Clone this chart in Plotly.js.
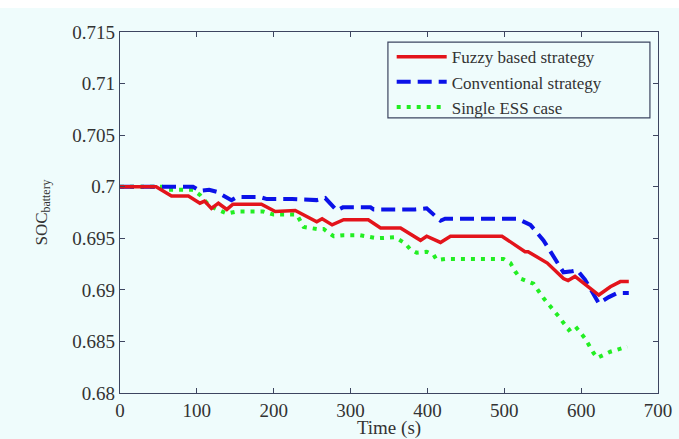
<!DOCTYPE html>
<html>
<head>
<meta charset="utf-8">
<script src="https://cdn.plot.ly/plotly-3.0.1.min.js"></script>
<style>html,body{margin:0;padding:0;background:#effcfc;}#chart{width:679px;height:439px;}</style>
</head>
<body>
<div id="chart"></div>
<script>
// Fuzzy based strategy
var fuzzyT = [0, 47, 67, 89, 104, 110, 119, 128, 139, 147, 184, 202, 228, 256, 263, 276, 291, 323, 339, 365, 391, 399, 417, 430, 497, 527, 531, 556, 577, 583, 592, 623, 638, 651, 662];
var fuzzyV = [0.7, 0.7, 0.6991, 0.6991, 0.6984, 0.6986, 0.6979, 0.6984, 0.6978, 0.6983, 0.6983, 0.6976, 0.6977, 0.6966, 0.6969, 0.6963, 0.6968, 0.6968, 0.6960, 0.6960, 0.6948, 0.6952, 0.6946, 0.6952, 0.6952, 0.6937, 0.6937, 0.6926, 0.6911, 0.6909, 0.6913, 0.6895, 0.6903, 0.6908, 0.6908];
// Conventional strategy
var convT = [0, 95, 104, 116, 126, 134, 145, 152, 182, 191, 224, 256, 267, 282, 290, 326, 330, 384, 399, 417, 423, 517, 534, 551, 564, 577, 588, 595, 605, 614, 623, 636, 647, 662];
var convV = [0.7, 0.7, 0.6996, 0.6997, 0.6995, 0.6992, 0.6987, 0.6990, 0.6990, 0.6988, 0.6988, 0.6987, 0.6989, 0.6977, 0.6980, 0.6980, 0.6978, 0.6978, 0.6979, 0.6967, 0.6969, 0.6969, 0.6963, 0.6948, 0.6932, 0.6917, 0.6918, 0.6919, 0.6910, 0.6898, 0.6887, 0.6893, 0.6897, 0.6897];
// Single ESS case
var singleT = [0, 55, 61, 95, 104, 117, 139, 152, 186, 200, 230, 239, 256, 265, 278, 291, 312, 334, 358, 371, 378, 386, 399, 408, 412, 423, 499, 508, 514, 521, 538, 551, 571, 584, 592, 605, 616, 621, 638, 660];
var singleV = [0.7, 0.7, 0.6997, 0.6997, 0.6992, 0.6981, 0.6974, 0.6976, 0.6976, 0.6973, 0.6973, 0.6961, 0.6959, 0.6959, 0.6952, 0.6953, 0.6953, 0.6950, 0.6951, 0.6945, 0.6939, 0.6936, 0.6937, 0.6934, 0.6929, 0.6930, 0.6930, 0.6926, 0.6918, 0.6911, 0.6906, 0.6892, 0.6874, 0.6861, 0.6865, 0.6853, 0.6839, 0.6834, 0.6840, 0.6845];

var xTicks = [0, 100, 200, 300, 400, 500, 600, 700];
var yTicks = [0.68, 0.685, 0.69, 0.695, 0.7, 0.705, 0.71, 0.715];
var yTickText = ['0.68', '0.685', '0.69', '0.695', '0.7', '0.705', '0.71', '0.715'];

var traces = [
  {x: fuzzyT, y: fuzzyV, name: 'Fuzzy based strategy', type: 'scatter', mode: 'lines',
   line: {color: '#e3141b', width: 3.5}},
  {x: convT, y: convV, name: 'Conventional strategy', type: 'scatter', mode: 'lines',
   line: {color: '#0b12e8', width: 4, dash: '14px,7px'}},
  {x: singleT, y: singleV, name: 'Single ESS case', type: 'scatter', mode: 'lines',
   line: {color: '#22ee22', width: 4, dash: '4px,6px'}}
];
// draw order: green, blue, red on top; legend order kept
var data = [traces[2], traces[1], traces[0]];
data[0].legendrank = 3; data[1].legendrank = 2; data[2].legendrank = 1;

var axisColor = '#3d4560';
var fontFam = '"Liberation Serif", "Times New Roman", serif';
var layout = {
  width: 679, height: 439,
  margin: {l: 120, r: 21, t: 32, b: 46},
  paper_bgcolor: '#effcfc',
  plot_bgcolor: '#effcfc',
  font: {family: fontFam, color: '#333', size: 17},
  showlegend: true,
  legend: {
    x: 0.505, y: 0.980, xanchor: 'left', yanchor: 'top',
    bgcolor: 'rgba(0,0,0,0)', borderwidth: 0,
    font: {family: fontFam, size: 17, color: '#333'},
    itemwidth: 50,
    tracegroupgap: 0
  },
  xaxis: {
    range: [0, 700], tickvals: xTicks, ticktext: xTicks.map(String),
    showline: true, linecolor: axisColor, linewidth: 1.2, mirror: 'ticks',
    ticks: 'inside', ticklen: 5, tickcolor: axisColor,
    showgrid: false, zeroline: false,
    tickfont: {family: fontFam, size: 19, color: '#333'},
    title: {text: 'Time (s)', font: {family: fontFam, size: 19, color: '#333'}, standoff: 2},
    automargin: false
  },
  yaxis: {
    range: [0.68, 0.715], tickvals: yTicks, ticktext: yTickText,
    showline: true, linecolor: axisColor, linewidth: 1.2, mirror: 'ticks',
    ticks: 'inside', ticklen: 5, tickcolor: axisColor,
    showgrid: false, zeroline: false,
    tickfont: {family: fontFam, size: 19, color: '#333'},
    title: {text: 'SOC<sub>battery</sub>', font: {family: fontFam, size: 17, color: '#333'}, standoff: 20},
    automargin: false
  },
  shapes: [
    {type: 'rect', xref: 'paper', yref: 'paper', x0: -0.3, x1: 1.1,
     y0: 1 + 24 / 361, y1: 1 + 34 / 361, fillcolor: '#ffffff', line: {width: 0}, layer: 'below'},
    {type: 'rect', xref: 'paper', yref: 'paper', x0: 0.498, x1: 0.985,
     y0: 0.762, y1: 0.972, fillcolor: 'rgba(0,0,0,0)', line: {color: axisColor, width: 1.2}, layer: 'above'}
  ]
};
Plotly.newPlot('chart', data, layout, {displayModeBar: false, staticPlot: true});
</script>
</body>
</html>
